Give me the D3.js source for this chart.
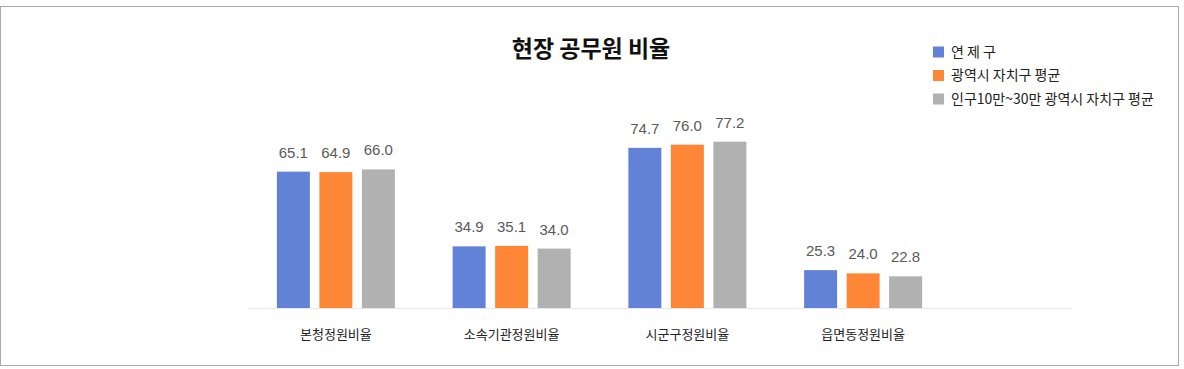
<!DOCTYPE html>
<html><head><meta charset="utf-8">
<script src="https://cdn.jsdelivr.net/npm/d3@7"></script>
<style>
body{margin:0;background:#fff;}
svg{display:block;}
</style></head>
<body><svg id="c" width="1184" height="369"></svg>
<script>
const title = "현장 공무원 비율";
const categories = ["본청정원비율", "소속기관정원비율", "시군구정원비율", "읍면동정원비율"];
const seriesNames = ["연 제 구", "광역시 자치구 평균", "인구10만~30만 광역시 자치구 평균"];
const yeonje = [65.1, 34.9, 74.7, 25.3];
const metroAvg = [64.9, 35.1, 76.0, 24.0];
const popAvg = [66.0, 34.0, 77.2, 22.8];
const colors = ["#6282d8", "#fe8737", "#b1b1b1"];

const series = [yeonje, metroAvg, popAvg];
const svg = d3.select("#c");
const font = "'Noto Sans CJK KR','Noto Sans',sans-serif";

svg.append("rect").attr("x",0.5).attr("y",6.5).attr("width",1178).attr("height",359)
  .attr("fill","#fff").attr("stroke","#aaaaaa");

const x = d3.scaleBand().domain(categories).range([248, 951]).padding(0);
const xi = d3.scaleBand().domain(d3.range(series.length)).range([-59, 59]).paddingInner(0.224).paddingOuter(0);
const y = d3.scaleLinear().domain([10, 90]).range([308, 110]);

svg.append("line").attr("x1",248).attr("x2",1072).attr("y1",y(10)+0.5).attr("y2",y(10)+0.5)
  .attr("stroke","#e8e8e8");

const g = svg.append("g");
categories.forEach((c, ci) => {
  const cx = x(c) + x.bandwidth()/2;
  series.forEach((s, si) => {
    const bx = cx + xi(si);
    g.append("rect").attr("x", bx).attr("y", y(s[ci])).attr("width", xi.bandwidth())
      .attr("height", y(10) - y(s[ci])).attr("fill", colors[si]);
    g.append("text").attr("x", bx + xi.bandwidth()/2).attr("y", y(s[ci]) - 14)
      .attr("text-anchor","middle").attr("font-family","'Liberation Sans',Arial,sans-serif")
      .attr("font-size",15).attr("fill","#5a5a5a").text(s[ci].toFixed(1));
  });
});

const xAxis = svg.append("g").attr("transform","translate(0,308)")
  .call(d3.axisBottom(x).tickSize(0).tickPadding(22));
xAxis.select(".domain").remove();
xAxis.selectAll("text").attr("font-family",font).attr("font-size",13).attr("fill","#222");

svg.append("text").attr("x",591).attr("y",57).attr("text-anchor","middle")
  .attr("font-family",font).attr("font-weight","bold").attr("font-size",23).attr("fill","#111").text(title);

const leg = svg.append("g");
seriesNames.forEach((n, i) => {
  const ly = 52 + i*23.5;
  leg.append("rect").attr("x",933).attr("y",ly-5.5).attr("width",11).attr("height",11).attr("fill",colors[i]);
  leg.append("text").attr("x",951).attr("y",ly).attr("dy","0.35em").attr("font-family",font)
    .attr("font-size",14).attr("fill","#222").text(n);
});
</script></body></html>
